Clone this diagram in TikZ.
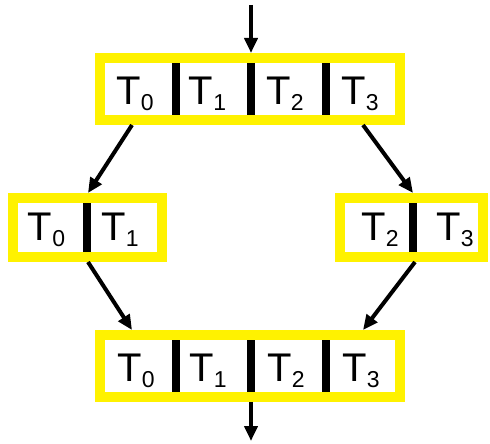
\documentclass[tikz,border=0pt]{standalone}
\usepackage{fontspec}
\setmainfont{Liberation Sans}
\usetikzlibrary{arrows.meta}
\newcommand\Tsub[1]{T\raisebox{-6pt}{\fontsize{23}{23}\selectfont #1}}
\tikzset{
  tbox/.style={draw=yellow, line width=10pt, fill=white, rectangle, inner sep=0pt},
  divider/.style={line width=8pt, black},
  conn/.style={line width=4pt, black, -{Triangle[length=15pt,width=13pt]}},
  lbl/.style={anchor=base, inner sep=0pt, font=\fontsize{40}{40}\selectfont}
}
\begin{document}
\begin{tikzpicture}[x=1pt,y=-1pt]
\useasboundingbox (0,0) rectangle (490,444);
% boxes
\node[tbox, minimum width=300pt, minimum height=62pt] (top) at (250,89) {};
\node[tbox, minimum width=149pt, minimum height=59pt] (ml) at (87.5,227.5) {};
\node[tbox, minimum width=143pt, minimum height=59pt] (mr) at (411.5,227.5) {};
\node[tbox, minimum width=300pt, minimum height=62pt] (bot) at (250,366) {};
% dividers
\foreach \x in {176,251,326} {
  \draw[divider] (\x,63) -- (\x,115);
  \draw[divider] (\x,340) -- (\x,392);
}
\draw[divider] (87,203) -- (87,252);
\draw[divider] (413,203) -- (413,252);
% labels
\node[lbl] (t0) at (135,104) {\Tsub{0}};
\node[lbl] (t1) at (207.5,104) {\Tsub{1}};
\node[lbl] (t2) at (285,104) {\Tsub{2}};
\node[lbl] (t3) at (360,104) {\Tsub{3}};
\node[lbl] (l0) at (46.5,240) {\Tsub{0}};
\node[lbl] (l1) at (120,240) {\Tsub{1}};
\node[lbl] (r2) at (380,240) {\Tsub{2}};
\node[lbl] (r3) at (455,240) {\Tsub{3}};
\node[lbl] (b0) at (136,381) {\Tsub{0}};
\node[lbl] (b1) at (208,381) {\Tsub{1}};
\node[lbl] (b2) at (286,381) {\Tsub{2}};
\node[lbl] (b3) at (361,381) {\Tsub{3}};
% connectors
\coordinate (in) at (251,5);
\coordinate (out) at (251,441);
\draw[conn] (in) -- (in |- top.north);
\draw[conn] ([xshift=37pt]top.south west) -- ([xshift=80pt]ml.north west);
\draw[conn] ([xshift=-42pt]top.south east) -- ([xshift=78pt]mr.north west);
\draw[conn] ([xshift=80pt]ml.south west) -- ([xshift=37pt]bot.north west);
\draw[conn] ([xshift=80pt]mr.south west) -- ([xshift=-42pt]bot.north east);
\draw[conn] (out |- bot.south) -- (out);
\end{tikzpicture}
\end{document}
